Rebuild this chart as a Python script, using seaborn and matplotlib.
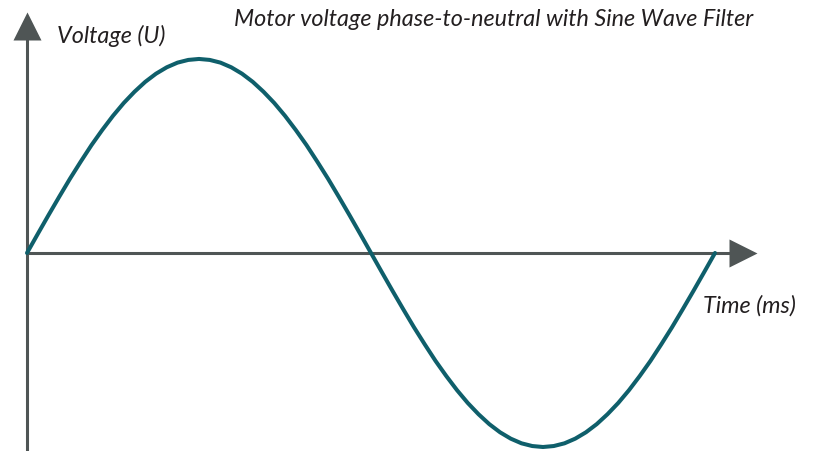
import numpy as np
import pandas as pd
import seaborn as sns
import matplotlib.pyplot as plt

# one period of the filtered phase-to-neutral voltage (normalised)
time_ms = [0.0, 0.3125, 0.625, 0.9375, 1.25, 1.5625, 1.875, 2.1875, 2.5,
           2.8125, 3.125, 3.4375, 3.75, 4.0625, 4.375, 4.6875, 5.0,
           5.3125, 5.625, 5.9375, 6.25, 6.5625, 6.875, 7.1875, 7.5,
           7.8125, 8.125, 8.4375, 8.75, 9.0625, 9.375, 9.6875, 10.0,
           10.3125, 10.625, 10.9375, 11.25, 11.5625, 11.875, 12.1875, 12.5,
           12.8125, 13.125, 13.4375, 13.75, 14.0625, 14.375, 14.6875, 15.0,
           15.3125, 15.625, 15.9375, 16.25, 16.5625, 16.875, 17.1875, 17.5,
           17.8125, 18.125, 18.4375, 18.75, 19.0625, 19.375, 19.6875, 20.0]
voltage = [0.000, 0.098, 0.195, 0.290, 0.383, 0.471, 0.556, 0.634, 0.707,
           0.773, 0.831, 0.882, 0.924, 0.957, 0.981, 0.995, 1.000,
           0.995, 0.981, 0.957, 0.924, 0.882, 0.831, 0.773, 0.707,
           0.634, 0.556, 0.471, 0.383, 0.290, 0.195, 0.098, 0.000,
           -0.098, -0.195, -0.290, -0.383, -0.471, -0.556, -0.634, -0.707,
           -0.773, -0.831, -0.882, -0.924, -0.957, -0.981, -0.995, -1.000,
           -0.995, -0.981, -0.957, -0.924, -0.882, -0.831, -0.773, -0.707,
           -0.634, -0.556, -0.471, -0.383, -0.290, -0.195, -0.098, 0.000]

title = 'Motor voltage phase-to-neutral with Sine Wave Filter'
y_label = 'Voltage (U)'
x_label = 'Time (ms)'

sns.set_style('white')
plt.rcParams['font.family'] = ['Lato', 'DejaVu Sans']

wave_color = '#0f5f6b'
axis_color = '#4f5555'
text_color = '#231f20'

df = pd.DataFrame({'time': time_ms, 'voltage': voltage})

fig = plt.figure(figsize=(8.14, 4.52), dpi=100)
ax = fig.add_axes([0, 0, 1, 1])

# map the data range onto the canvas like the original drawing
ax.set_xlim(-0.785, 22.878)
ax.set_ylim(-1.0206, 1.309)
ax.set_axis_off()

# axes with arrow heads
ax.plot([0, 20.6], [0, 0], color=axis_color, lw=2.2, solid_capstyle='butt', zorder=1)
ax.plot([0, 0], [-1.03, 1.14], color=axis_color, lw=2.2, solid_capstyle='butt', zorder=1)
ax.plot([20.80], [0], marker='>', ms=20, color=axis_color, mec='none', zorder=1)
ax.plot([0], [1.1675], marker='^', ms=20, color=axis_color, mec='none', zorder=1)

sns.lineplot(data=df, x='time', y='voltage', ax=ax, color=wave_color,
             linewidth=2.9, zorder=2)

W, H = 814, 452
fs = 16.8
fig.text(234 / W, 1 - 26.5 / H, title, fontsize=fs, style='italic',
         color=text_color, ha='left', va='baseline')
fig.text(57 / W, 1 - 43 / H, y_label, fontsize=fs, style='italic',
         color=text_color, ha='left', va='baseline')
fig.text(703 / W, 1 - 312.5 / H, x_label, fontsize=fs, style='italic',
         color=text_color, ha='left', va='baseline')

fig.savefig('out.png', dpi=100)
